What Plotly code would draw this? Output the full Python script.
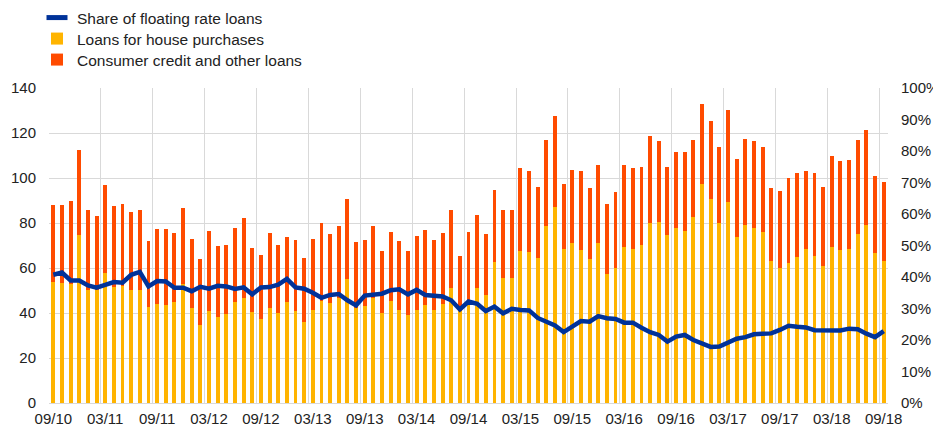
import plotly.graph_objects as go

# Monthly observations 09/10 .. 09/18 (97 months), EUR billions
house_purchases = [
    53.6, 53.3, 52.7, 74.7, 50.4, 50.1, 57.6, 51.6, 52.1, 50.1, 50.1, 42.7,
    44.1, 43.6, 44.7, 53.0, 42.1, 34.8, 41.0, 38.4, 39.7, 44.9, 46.8, 40.6,
    37.3, 42.4, 40.1, 45.0, 41.0, 36.0, 41.5, 45.3, 44.4, 46.7, 55.0, 42.1,
    43.3, 46.5, 40.1, 45.3, 41.3, 39.1, 41.3, 43.7, 41.5, 44.1, 51.3, 40.9,
    44.2, 51.0, 48.1, 62.5, 55.4, 55.4, 67.4, 67.0, 64.6, 78.8, 87.3, 68.4,
    71.3, 68.1, 64.1, 71.1, 57.5, 60.1, 69.2, 68.4, 70.4, 80.1, 80.6, 74.8,
    77.9, 76.6, 82.7, 97.2, 90.7, 80.1, 89.5, 73.9, 79.3, 77.6, 75.9, 63.0,
    60.0, 62.4, 64.9, 68.4, 65.5, 61.0, 69.5, 68.1, 68.6, 75.3, 79.3, 66.7,
    63.3,
]
consumer_credit = [
    34.5, 34.8, 37.2, 37.7, 35.4, 33.0, 39.3, 36.0, 36.3, 34.8, 35.7, 29.4,
    33.2, 33.7, 30.9, 33.7, 30.6, 29.2, 35.3, 31.4, 30.7, 33.0, 35.6, 28.3,
    28.3, 33.2, 30.1, 28.8, 31.6, 28.6, 31.5, 34.6, 30.7, 32.1, 35.8, 29.3,
    29.1, 32.3, 27.5, 30.6, 30.6, 28.6, 32.8, 33.3, 30.9, 31.5, 34.6, 24.6,
    31.9, 32.7, 27.2, 32.2, 30.5, 30.2, 37.2, 36.1, 31.4, 37.9, 40.4, 28.9,
    32.3, 35.2, 31.6, 34.5, 31.1, 33.5, 36.7, 36.2, 34.6, 38.6, 35.8, 29.9,
    33.8, 35.1, 34.3, 35.5, 34.6, 33.5, 40.9, 34.5, 37.9, 38.7, 37.9, 32.4,
    34.4, 37.7, 37.3, 34.7, 36.7, 35.1, 40.4, 39.3, 39.4, 41.7, 42.2, 34.2,
    35.1,
]
# Share of floating rate loans, percent
floating_share = [
    40.7, 41.4, 38.9, 38.9, 37.3, 36.6, 37.5, 38.4, 38.2, 40.7, 41.6, 37.0,
    38.7, 38.6, 36.6, 36.6, 35.5, 36.9, 36.3, 37.2, 37.0, 36.2, 36.7, 34.5,
    36.7, 36.8, 37.6, 39.4, 36.7, 36.3, 35.0, 33.4, 34.3, 34.6, 32.6, 31.0,
    34.1, 34.5, 34.7, 35.8, 36.1, 34.5, 35.9, 34.3, 34.1, 33.8, 32.6, 29.7,
    32.2, 31.5, 29.2, 30.6, 28.5, 29.9, 29.5, 29.4, 27.0, 25.7, 24.6, 22.5,
    24.4, 26.0, 25.8, 27.6, 26.9, 26.7, 25.5, 25.5, 23.9, 22.5, 21.6, 19.5,
    21.1, 21.6, 20.0, 18.8, 17.8, 17.9, 19.2, 20.4, 20.9, 21.8, 22.0, 22.1,
    23.2, 24.5, 24.2, 24.0, 23.1, 23.1, 22.9, 23.0, 23.6, 23.4, 22.0, 20.9,
    22.8,
]
tick_labels = ["09/10", "03/11", "09/11", "03/12", "09/12", "03/13", "09/13",
               "03/14", "09/14", "03/15", "09/15", "03/16", "09/16", "03/17",
               "09/17", "03/18", "09/18"]

n = len(house_purchases)
x = list(range(n))
tick_vals = list(range(0, n, 6))
grid_vals = [v - 0.5 for v in tick_vals] + [n - 0.5]
share_frac = [v / 100 for v in floating_share]

BLUE = "#003299"
YELLOW = "#FFB400"
ORANGE = "#FF4B00"
FONT = "Arial, Liberation Sans, sans-serif"
TXT = "#222222"

# The page body adds an 8px offset, so the figure is 8px smaller each way
FIG_W, FIG_H = 933, 420

fig = go.Figure()
fig.add_trace(go.Scatter(
    x=x, y=share_frac, name="Share of floating rate loans", yaxis="y2",
    mode="lines", line=dict(color=BLUE, width=4.5), showlegend=False,
))
# legend-only entry: short thick dash like the reference key
fig.add_trace(go.Scatter(
    x=[None], y=[None], name="Share of floating rate loans", yaxis="y2",
    mode="markers", legend="legend",
    marker=dict(symbol="line-ew", size=15, color=BLUE,
                line=dict(width=5, color=BLUE)),
))
fig.add_trace(go.Bar(
    x=x, y=house_purchases, name="Loans for house purchases",
    marker=dict(color=YELLOW, line=dict(width=0)), width=0.45,
    legend="legend2",
))
fig.add_trace(go.Bar(
    x=x, y=consumer_credit, name="Consumer credit and other loans",
    marker=dict(color=ORANGE, line=dict(width=0)), width=0.45,
    legend="legend3",
))


def legend_at(row_center_px):
    return dict(
        x=29 / FIG_W, xref="container", xanchor="left",
        y=1 - row_center_px / FIG_H, yref="container", yanchor="middle",
        font=dict(size=15.5, color=TXT), bgcolor="rgba(0,0,0,0)",
        itemwidth=30, itemsizing="trace",
    )


fig.update_layout(
    width=FIG_W, height=FIG_H,
    margin=dict(l=41, r=53, t=80, b=25, autoexpand=False),
    barmode="stack",
    plot_bgcolor="white", paper_bgcolor="white",
    font=dict(family=FONT, size=15, color=TXT),
    showlegend=True,
    legend=legend_at(10),
    legend2=legend_at(31),
    legend3=legend_at(52),
    xaxis=dict(
        range=[-0.5, n - 0.5], tickmode="array", tickvals=tick_vals,
        ticktext=tick_labels, showgrid=False, zeroline=False,
        showline=False, ticks="", ticklabelstandoff=5,
        tickfont=dict(size=15),
        minor=dict(tickmode="array", tickvals=grid_vals, showgrid=True,
                   gridcolor="#d9d9d9", gridwidth=1, ticks=""),
    ),
    yaxis=dict(
        range=[0, 140], dtick=20, showgrid=True, gridcolor="#d9d9d9",
        gridwidth=1, zeroline=True, zerolinecolor="#d9d9d9", zerolinewidth=1,
        ticks="", ticklabelstandoff=12, tickfont=dict(size=15),
    ),
    yaxis2=dict(
        range=[0, 1], dtick=0.1, tickformat=".0%", overlaying="y",
        side="right", showgrid=False, zeroline=False, ticks="",
        ticklabelstandoff=12, tickfont=dict(size=15),
    ),
)

fig.write_html("out.html")
